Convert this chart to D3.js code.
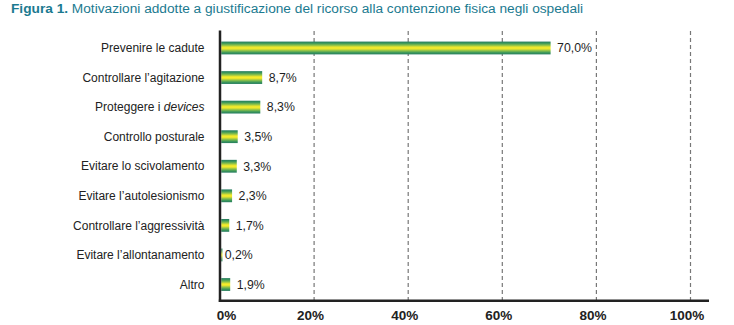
<!DOCTYPE html>
<html>
<head>
<meta charset="utf-8">
<script src="https://cdn.jsdelivr.net/npm/d3@7/dist/d3.min.js"></script>
<style>
  html, body { margin: 0; padding: 0; background: #fff; }
  svg { display: block; font-family: "Liberation Sans", Arial, Helvetica, sans-serif; }
</style>
</head>
<body>
<svg id="chart" width="734" height="325"></svg>
<script>
// Reasons given for using physical restraint in hospitals (% of responses)
const categories = [
  "Prevenire le cadute",
  "Controllare l\u2019agitazione",
  "Proteggere i devices",
  "Controllo posturale",
  "Evitare lo scivolamento",
  "Evitare l\u2019autolesionismo",
  "Controllare l\u2019aggressivit\u00e0",
  "Evitare l\u2019allontanamento",
  "Altro"
];
const values = [70.0, 8.7, 8.3, 3.5, 3.3, 2.3, 1.7, 0.2, 1.9];
const tickValues = [0, 20, 40, 60, 80, 100];
const italicTerms = ["devices"];

const svg = d3.select("#chart");

// Title
const title = svg.append("text")
  .attr("x", 11).attr("y", 13)
  .attr("font-size", 13.7)
  .attr("fill", "#1b7a90");
title.append("tspan").attr("font-weight", "bold").text("Figura 1. ");
title.append("tspan").text("Motivazioni addotte a giustificazione del ricorso alla contenzione fisica negli ospedali");

const plotLeft = 220, plotRight = 690.5, plotTop = 31, plotBottom = 300.7;
const axisWidth = 2.5;

const x = d3.scaleLinear().domain([0, 100]).range([plotLeft, plotRight]);
const y = d3.scalePoint().domain(categories).range([33.2, 299.3]).padding(0.5);
const barH = 12.8;
// bars begin at the right edge of the vertical axis line
const barStart = plotLeft + axisWidth / 2;

// Vertical green-yellow-green gradient for the bars
const defs = svg.append("defs");
const grad = defs.append("linearGradient")
  .attr("id", "barGrad").attr("x1", 0).attr("y1", 0).attr("x2", 0).attr("y2", 1);
[
  [0, "#237a5e"], [0.14, "#3f9a5a"], [0.3, "#93c447"], [0.42, "#e6e32e"],
  [0.5, "#f6ee2a"], [0.58, "#e6e32e"], [0.7, "#93c447"], [0.86, "#3f9a5a"], [1, "#237a5e"]
].forEach(([o, c]) => grad.append("stop").attr("offset", o).attr("stop-color", c));

// Dashed gridlines
svg.append("g")
  .selectAll("line")
  .data(tickValues.filter(d => d > 0))
  .join("line")
  .attr("x1", d => x(d)).attr("x2", d => x(d))
  .attr("y1", plotTop).attr("y2", plotBottom)
  .attr("stroke", "#777")
  .attr("stroke-width", 1.2)
  .attr("stroke-dasharray", "4,3");

// Bars
svg.append("g")
  .selectAll("rect")
  .data(values)
  .join("rect")
  .attr("x", barStart)
  .attr("y", (d, i) => y(categories[i]) - barH / 2)
  .attr("width", d => Math.max(1.2, x(d) - x(0)))
  .attr("height", barH)
  .attr("fill", "url(#barGrad)");

// Value labels
svg.append("g")
  .selectAll("text")
  .data(values)
  .join("text")
  .attr("x", d => barStart + (x(d) - x(0)) + (d < 1 ? 2.5 : 6.5))
  .attr("y", (d, i) => y(categories[i]))
  .attr("dy", "0.35em")
  .attr("font-size", 12.3)
  .attr("fill", "#1e1e1e")
  .text(d => d.toFixed(1).replace(".", ",") + "%");

// Category labels, with foreign terms in italics
const catG = svg.append("g");
categories.forEach(c => {
  const t = catG.append("text")
    .attr("x", 204.5)
    .attr("y", y(c))
    .attr("dy", "0.35em")
    .attr("text-anchor", "end")
    .attr("font-size", 12)
    .attr("fill", "#222");
  const parts = c.split(new RegExp("(" + italicTerms.join("|") + ")"));
  parts.filter(p => p.length).forEach(p => {
    t.append("tspan")
      .attr("font-style", italicTerms.includes(p) ? "italic" : null)
      .text(p);
  });
});

// Bottom axis
const xAxis = d3.axisBottom(x)
  .tickValues(tickValues)
  .tickSize(0)
  .tickPadding(10)
  .tickFormat(d => d + "%");
const ax = svg.append("g")
  .attr("transform", `translate(0,${plotBottom})`)
  .call(xAxis);
ax.select(".domain").remove();
ax.selectAll("text")
  .attr("font-family", "\"Liberation Sans\", Arial, sans-serif")
  .attr("font-size", 13.5)
  .attr("font-weight", "bold")
  .attr("fill", "#222")
  .attr("dx", d => d === 0 ? 6 : -4);

// Axis lines
svg.append("line")
  .attr("x1", plotLeft).attr("x2", plotLeft)
  .attr("y1", plotTop - 0.5).attr("y2", plotBottom + 1.2)
  .attr("stroke", "#222").attr("stroke-width", axisWidth);
svg.append("line")
  .attr("x1", plotLeft - 1.2).attr("x2", 709)
  .attr("y1", plotBottom).attr("y2", plotBottom)
  .attr("stroke", "#222").attr("stroke-width", axisWidth);
</script>
</body>
</html>
